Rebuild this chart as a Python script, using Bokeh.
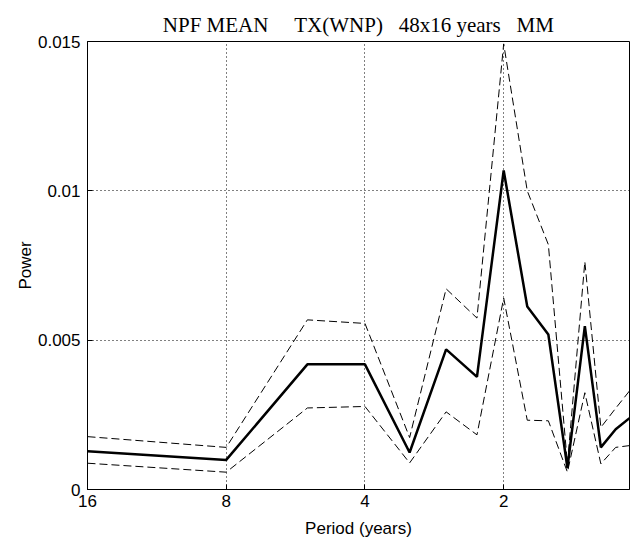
from bokeh.plotting import figure
from bokeh.models import (Range1d, FixedTicker, CustomJSTickFormatter, PrintfTickFormatter,
                          ColumnDataSource)
from bokeh.embed import file_html
from bokeh.resources import INLINE

# Periods (years) of the spectral estimates: 16/k, k = 1..15
period = [16.0, 8.0, 5.3333, 4.0, 3.2, 2.6667, 2.2857, 2.0, 1.7778, 1.6,
          1.4545, 1.3333, 1.2308, 1.1429, 1.0667]
power_mean = [0.00128, 0.00099, 0.00419, 0.00419, 0.00124, 0.00469, 0.00377, 0.01068,
              0.00613, 0.00519, 0.00072, 0.00547, 0.00141, 0.00202, 0.00239]
power_upper = [0.00177, 0.00141, 0.00568, 0.00556, 0.00174, 0.00672, 0.00574, 0.01492,
               0.01000, 0.00820, 0.00086, 0.00763, 0.00208, 0.00272, 0.00330]
power_lower = [0.00088, 0.00058, 0.00273, 0.00278, 0.00089, 0.00260, 0.00183, 0.00641,
               0.00232, 0.00230, 0.00058, 0.00324, 0.00086, 0.00141, 0.00147]

x_ticks = [2, 4, 8, 16]
y_ticks = [0, 0.005, 0.01, 0.015]
title_text = "NPF MEAN\u00a0\u00a0\u00a0\u00a0 TX(WNP)\u00a0\u00a0 48x16 years\u00a0\u00a0 MM"

src = ColumnDataSource(dict(period=period, mean=power_mean, upper=power_upper, lower=power_lower))

p = figure(width=630, height=541, output_backend="svg", toolbar_location=None,
           x_axis_type="log", x_range=Range1d(16, 16 / 15), y_range=Range1d(0, 0.015),
           min_border_left=87, min_border_right=1, min_border_top=41, min_border_bottom=52,
           title=title_text)

p.background_fill_color = "white"
p.border_fill_color = "white"
p.outline_line_color = "black"
p.outline_line_width = 1

p.title.text_font = "Liberation Serif"
p.title.text_font_size = "21px"
p.title.text_font_style = "normal"
p.title.align = "center"
p.title.text_color = "black"

p.line("period", "lower", source=src, line_color="black", line_width=1, line_dash="8 4")
p.line("period", "upper", source=src, line_color="black", line_width=1, line_dash="8 4")
p.line("period", "mean", source=src, line_color="black", line_width=2.5)

xt = FixedTicker(ticks=x_ticks, minor_ticks=[])
yt = FixedTicker(ticks=y_ticks, minor_ticks=[])

xa = p.xaxis[0]
xa.ticker = xt
xa.formatter = PrintfTickFormatter(format="%d")
xa.axis_label = "Period (years)"
ya = p.yaxis[0]
ya.ticker = yt
ya.formatter = CustomJSTickFormatter(code="return tick.toString();")
ya.axis_label = "Power"

for ax in (xa, ya):
    ax.axis_line_color = "black"
    ax.major_tick_in = 5
    ax.major_tick_out = 0
    ax.major_tick_line_color = "black"
    ax.minor_tick_line_color = None
    ax.major_label_text_font = "Liberation Sans"
    ax.major_label_text_font_size = "17px"
    ax.major_label_text_color = "black"
    ax.axis_label_text_font = "Liberation Sans"
    ax.axis_label_text_font_size = "17px"
    ax.axis_label_text_font_style = "normal"
    ax.axis_label_text_color = "black"
xa.major_label_standoff = 5
xa.axis_label_standoff = 9
ya.major_label_standoff = 7
ya.axis_label_standoff = 0

for g, t in ((p.xgrid[0], xt), (p.ygrid[0], yt)):
    g.ticker = t
    g.grid_line_color = "black"
    g.grid_line_dash = "1 3"
    g.grid_line_width = 1

open("out.html", "w").write(file_html(p, INLINE))
